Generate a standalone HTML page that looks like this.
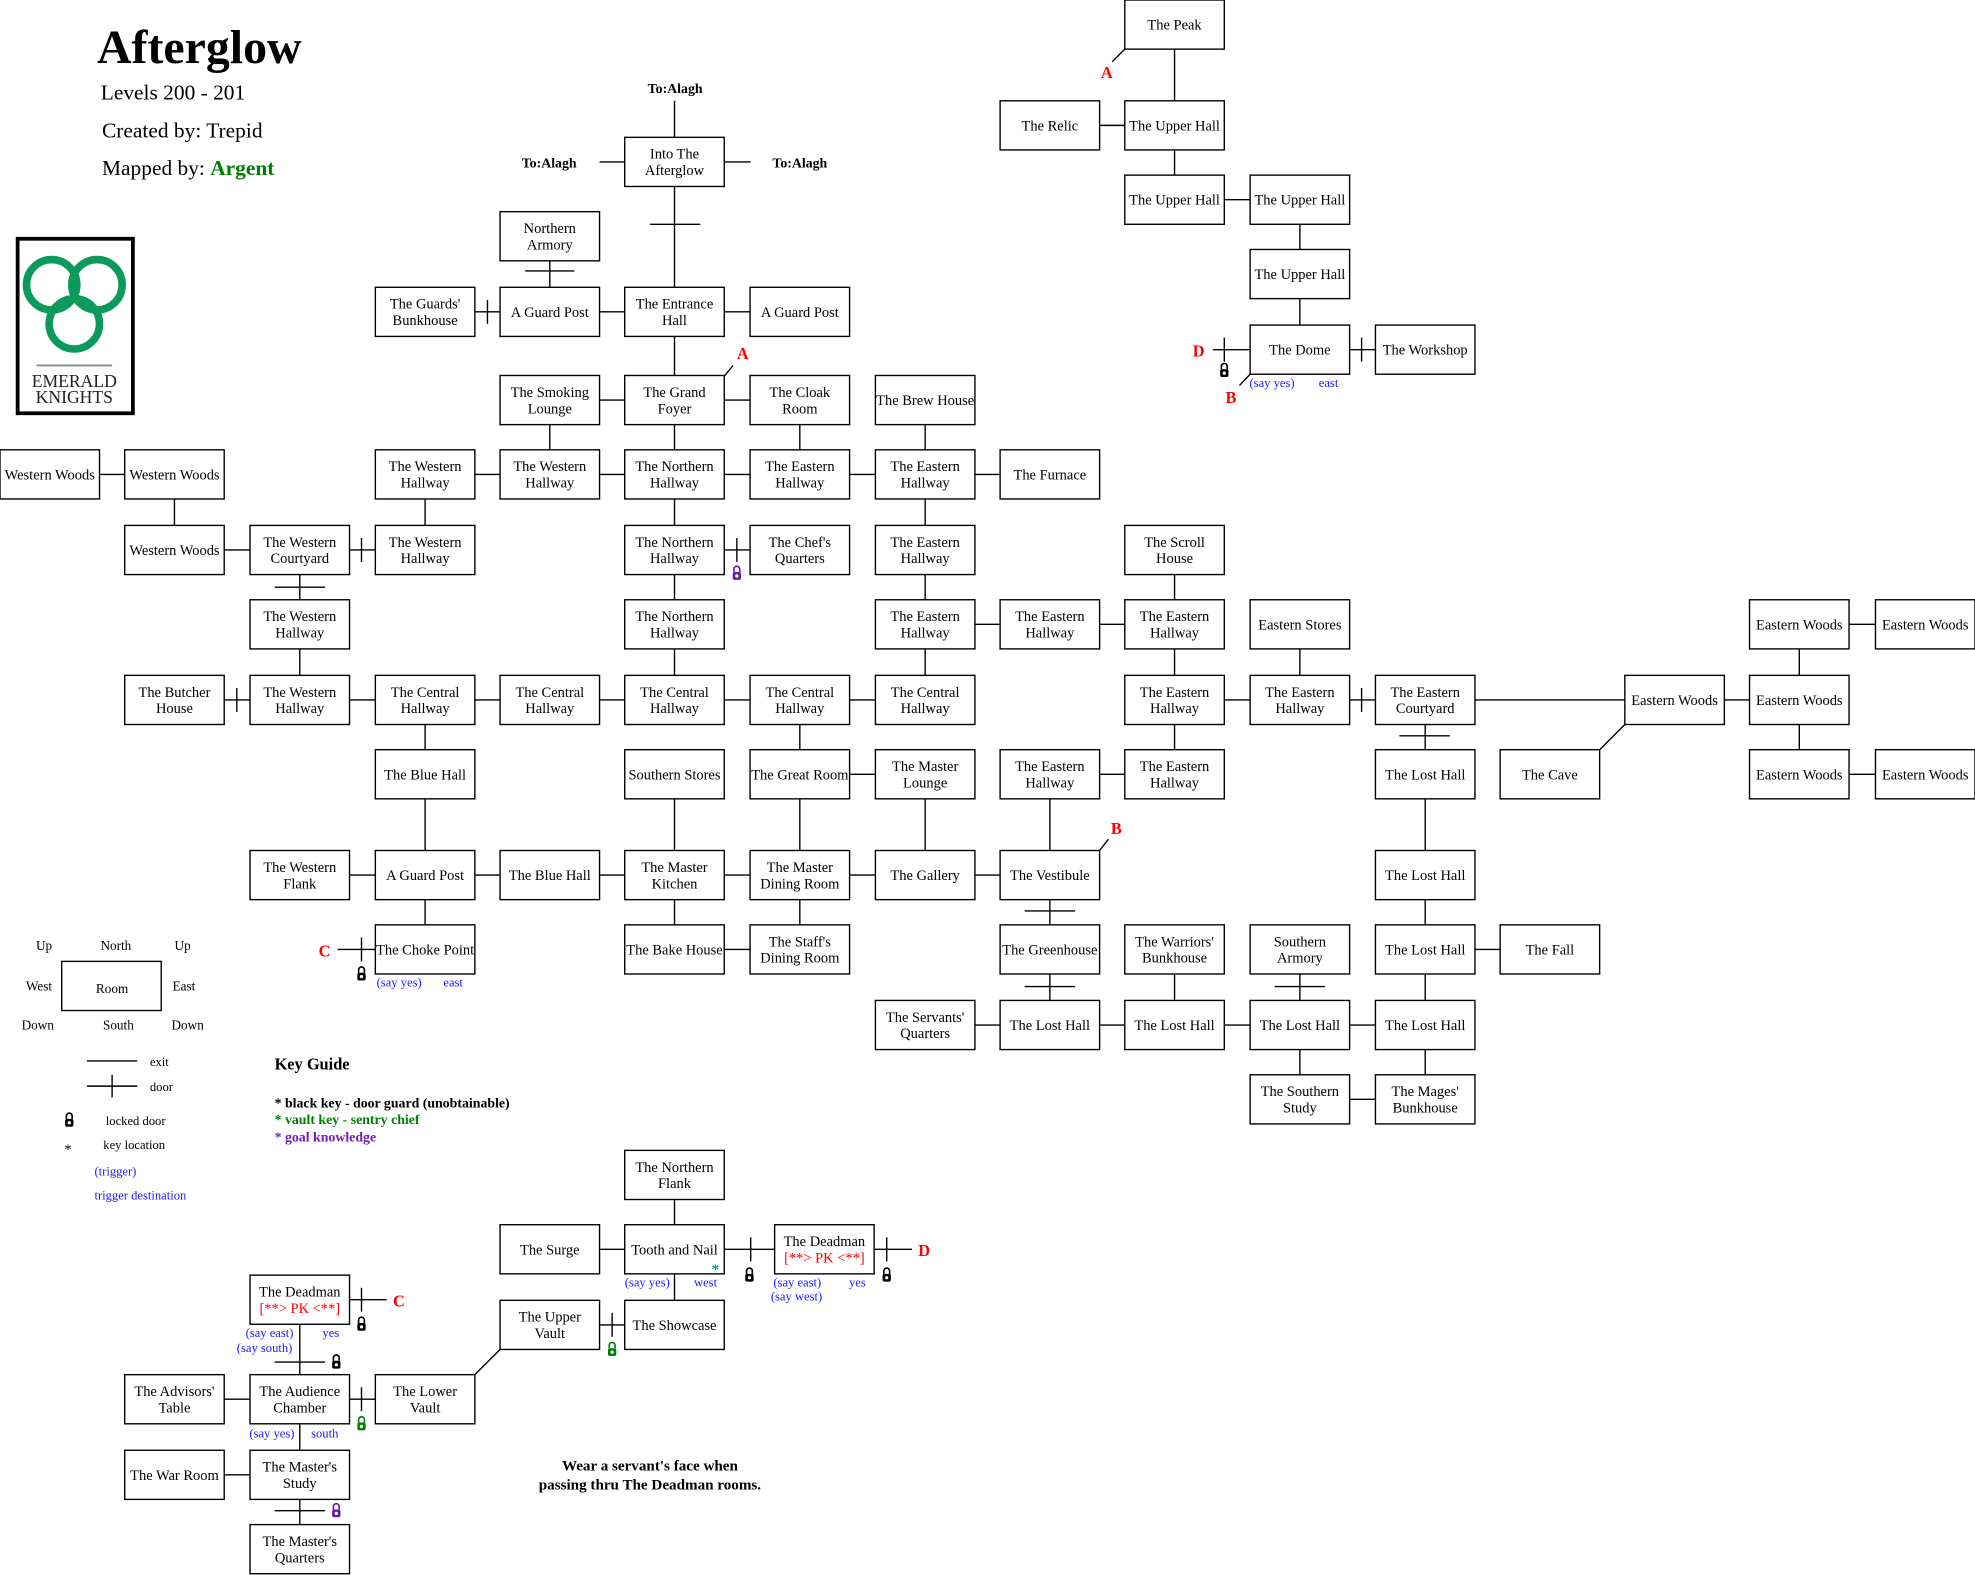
<!DOCTYPE html>
<html><head><meta charset="utf-8">
<style>
html,body{margin:0;padding:0;background:#fff;}
svg{display:block;}
text{font-family:"Liberation Serif",serif;}
.b rect{fill:#fff;stroke:#000;stroke-width:1.1;}
.b text{font-size:11.5px;text-anchor:middle;fill:#000;}
.b text.pk{fill:#f00;}
.l line{stroke:#000;stroke-width:1.1;}
.bl{fill:#1a1aff;font-size:10px;}
.red{fill:#f00;font-weight:bold;font-size:13px;}
</style></head><body>
<svg width="1975" height="1575" viewBox="0 0 1568 1250" preserveAspectRatio="none" xmlns="http://www.w3.org/2000/svg">
<defs>
<g id="lk"><path d="M-2.3,-1 v-2.3 a2.3,2.3 0 0 1 4.6,0 v2.3" fill="none" stroke="currentColor" stroke-width="1.3"/><rect x="-3.3" y="-1" width="6.6" height="6.2" rx="1.5" fill="currentColor"/><circle cx="0" cy="2.1" r="1.3" fill="#fff"/></g>
</defs>

<!-- header -->
<text x="77" y="50" font-size="38" font-weight="bold">Afterglow</text>
<text x="80" y="79" font-size="17">Levels 200 - 201</text>
<text x="81" y="109" font-size="17">Created by: Trepid</text>
<text x="81" y="139" font-size="17">Mapped by: <tspan fill="#008000" font-weight="bold">Argent</tspan></text>

<!-- logo -->
<rect x="14" y="189.5" width="91.5" height="138.5" fill="#fff" stroke="#000" stroke-width="3"/>
<g fill="none" stroke="#0a9a5c" stroke-width="6">
<circle cx="41" cy="226" r="20"/><circle cx="77" cy="226" r="20"/><circle cx="59" cy="257" r="20"/>
</g>
<line x1="29" y1="290" x2="89" y2="290" stroke="#888" stroke-width="1.5"/>
<text x="59" y="307" font-size="14" text-anchor="middle" fill="#222">EMERALD</text>
<text x="59" y="320" font-size="14" text-anchor="middle" fill="#222">KNIGHTS</text>

<!-- To:Alagh -->
<g font-size="11" font-weight="bold" text-anchor="middle">
<text x="536" y="74">To:Alagh</text>
<text x="436" y="133">To:Alagh</text>
<text x="635" y="133">To:Alagh</text>
</g>

<!-- connectors -->
<g class="l">
<line x1="873" y1="99.5" x2="893" y2="99.5"/>
<line x1="972" y1="158.5" x2="992.5" y2="158.5"/>
<line x1="1071.5" y1="277.5" x2="1092" y2="277.5"/><line x1="1081" y1="268" x2="1081" y2="287"/>
<line x1="963" y1="277.5" x2="992.5" y2="277.5"/><line x1="972" y1="268" x2="972" y2="287"/>
<line x1="476" y1="128.5" x2="496" y2="128.5"/><line x1="575" y1="128.5" x2="596" y2="128.5"/>
<line x1="377" y1="247.5" x2="397" y2="247.5"/><line x1="387" y1="238" x2="387" y2="257"/>
<line x1="476" y1="247.5" x2="496" y2="247.5"/><line x1="575" y1="247.5" x2="595.5" y2="247.5"/>
<line x1="476" y1="317.5" x2="496" y2="317.5"/><line x1="575" y1="317.5" x2="595.5" y2="317.5"/>
<line x1="79" y1="376.5" x2="99" y2="376.5"/><line x1="377" y1="376.5" x2="397" y2="376.5"/>
<line x1="476" y1="376.5" x2="496" y2="376.5"/><line x1="575" y1="376.5" x2="595.5" y2="376.5"/>
<line x1="674.5" y1="376.5" x2="695" y2="376.5"/><line x1="774" y1="376.5" x2="794" y2="376.5"/>
<line x1="178" y1="436.5" x2="198.5" y2="436.5"/>
<line x1="277.5" y1="436.5" x2="298" y2="436.5"/><line x1="287" y1="427" x2="287" y2="446"/>
<line x1="575" y1="436.5" x2="595.5" y2="436.5"/><line x1="585" y1="427" x2="585" y2="446"/>
<line x1="774" y1="495.5" x2="794" y2="495.5"/><line x1="873" y1="495.5" x2="893" y2="495.5"/>
<line x1="1468" y1="495.5" x2="1489" y2="495.5"/>
<line x1="178" y1="555.5" x2="198.5" y2="555.5"/><line x1="188" y1="546" x2="188" y2="565"/>
<line x1="277.5" y1="555.5" x2="298" y2="555.5"/><line x1="377" y1="555.5" x2="397" y2="555.5"/>
<line x1="476" y1="555.5" x2="496" y2="555.5"/><line x1="575" y1="555.5" x2="595.5" y2="555.5"/>
<line x1="674.5" y1="555.5" x2="695" y2="555.5"/><line x1="972" y1="555.5" x2="992.5" y2="555.5"/>
<line x1="1071.5" y1="555.5" x2="1092" y2="555.5"/><line x1="1081" y1="546" x2="1081" y2="565"/>
<line x1="1171" y1="555.5" x2="1290" y2="555.5"/><line x1="1369" y1="555.5" x2="1389" y2="555.5"/>
<line x1="674.5" y1="614.5" x2="695" y2="614.5"/><line x1="873" y1="614.5" x2="893" y2="614.5"/>
<line x1="1468" y1="614.5" x2="1489" y2="614.5"/>
<line x1="277.5" y1="694.5" x2="298" y2="694.5"/><line x1="377" y1="694.5" x2="397" y2="694.5"/>
<line x1="476" y1="694.5" x2="496" y2="694.5"/><line x1="575" y1="694.5" x2="595.5" y2="694.5"/>
<line x1="674.5" y1="694.5" x2="695" y2="694.5"/><line x1="774" y1="694.5" x2="794" y2="694.5"/>
<line x1="268" y1="753.5" x2="298" y2="753.5"/><line x1="287" y1="744" x2="287" y2="763"/>
<line x1="575" y1="753.5" x2="595.5" y2="753.5"/><line x1="1171" y1="753.5" x2="1191" y2="753.5"/>
<line x1="774" y1="813.5" x2="794" y2="813.5"/><line x1="873" y1="813.5" x2="893" y2="813.5"/>
<line x1="972" y1="813.5" x2="992.5" y2="813.5"/><line x1="1071.5" y1="813.5" x2="1092" y2="813.5"/>
<line x1="1071.5" y1="872.5" x2="1092" y2="872.5"/>
<line x1="476" y1="991.5" x2="496" y2="991.5"/>
<line x1="575" y1="991.5" x2="615" y2="991.5"/><line x1="596" y1="982" x2="596" y2="1001"/>
<line x1="674.5" y1="991.5" x2="724" y2="991.5"/><line x1="704" y1="982" x2="704" y2="1001"/>
<line x1="277.5" y1="1031.5" x2="307" y2="1031.5"/><line x1="287" y1="1022" x2="287" y2="1041"/>
<line x1="476" y1="1051.5" x2="496" y2="1051.5"/><line x1="486" y1="1042" x2="486" y2="1061"/>
<line x1="178" y1="1110.5" x2="198.5" y2="1110.5"/>
<line x1="277.5" y1="1110.5" x2="298" y2="1110.5"/><line x1="287" y1="1101" x2="287" y2="1120"/>
<line x1="178" y1="1170.5" x2="198.5" y2="1170.5"/>
<line x1="932.5" y1="39" x2="932.5" y2="80"/><line x1="932.5" y1="119" x2="932.5" y2="139"/>
<line x1="1032" y1="178" x2="1032" y2="198"/><line x1="1032" y1="237" x2="1032" y2="258"/>
<line x1="535.5" y1="80" x2="535.5" y2="109"/>
<line x1="535.5" y1="148" x2="535.5" y2="228"/><line x1="516" y1="178" x2="556" y2="178"/>
<line x1="535.5" y1="267" x2="535.5" y2="298"/><line x1="535.5" y1="337" x2="535.5" y2="357"/>
<line x1="535.5" y1="396" x2="535.5" y2="417"/><line x1="535.5" y1="456" x2="535.5" y2="476"/>
<line x1="535.5" y1="515" x2="535.5" y2="536"/>
<line x1="436.5" y1="207" x2="436.5" y2="228"/><line x1="417" y1="215" x2="456" y2="215"/>
<line x1="436.5" y1="337" x2="436.5" y2="357"/>
<line x1="635" y1="337" x2="635" y2="357"/><line x1="635" y1="575" x2="635" y2="595"/>
<line x1="635" y1="634" x2="635" y2="675"/><line x1="635" y1="714" x2="635" y2="734"/>
<line x1="734.5" y1="337" x2="734.5" y2="357"/><line x1="734.5" y1="396" x2="734.5" y2="417"/>
<line x1="734.5" y1="456" x2="734.5" y2="476"/><line x1="734.5" y1="515" x2="734.5" y2="536"/>
<line x1="734.5" y1="634" x2="734.5" y2="675"/>
<line x1="337.5" y1="396" x2="337.5" y2="417"/><line x1="337.5" y1="575" x2="337.5" y2="595"/>
<line x1="337.5" y1="634" x2="337.5" y2="675"/><line x1="337.5" y1="714" x2="337.5" y2="734"/>
<line x1="138.5" y1="396" x2="138.5" y2="417"/>
<line x1="238" y1="456" x2="238" y2="476"/><line x1="218" y1="466" x2="258" y2="466"/>
<line x1="238" y1="515" x2="238" y2="536"/>
<line x1="238" y1="1051" x2="238" y2="1091"/><line x1="218" y1="1081" x2="258" y2="1081"/>
<line x1="238" y1="1130" x2="238" y2="1151"/>
<line x1="238" y1="1190" x2="238" y2="1210"/><line x1="218" y1="1199" x2="258" y2="1199"/>
<line x1="932.5" y1="456" x2="932.5" y2="476"/><line x1="932.5" y1="515" x2="932.5" y2="536"/>
<line x1="932.5" y1="575" x2="932.5" y2="595"/><line x1="932.5" y1="773" x2="932.5" y2="794"/>
<line x1="1032" y1="515" x2="1032" y2="536"/>
<line x1="1032" y1="773" x2="1032" y2="794"/><line x1="1012" y1="783" x2="1052" y2="783"/>
<line x1="1032" y1="833" x2="1032" y2="853"/>
<line x1="1131.5" y1="575" x2="1131.5" y2="595"/><line x1="1111" y1="584" x2="1151" y2="584"/>
<line x1="1131.5" y1="634" x2="1131.5" y2="675"/><line x1="1131.5" y1="714" x2="1131.5" y2="734"/>
<line x1="1131.5" y1="773" x2="1131.5" y2="794"/><line x1="1131.5" y1="833" x2="1131.5" y2="853"/>
<line x1="1428.5" y1="515" x2="1428.5" y2="536"/><line x1="1428.5" y1="575" x2="1428.5" y2="595"/>
<line x1="833.5" y1="634" x2="833.5" y2="675"/>
<line x1="833.5" y1="714" x2="833.5" y2="734"/><line x1="813.5" y1="723" x2="853.5" y2="723"/>
<line x1="833.5" y1="773" x2="833.5" y2="794"/><line x1="813.5" y1="783" x2="853.5" y2="783"/>
<line x1="535.5" y1="634" x2="535.5" y2="675"/><line x1="535.5" y1="714" x2="535.5" y2="734"/>
<line x1="535.5" y1="952" x2="535.5" y2="972"/><line x1="535.5" y1="1011" x2="535.5" y2="1032"/>
<line x1="1290" y1="575" x2="1270" y2="595" stroke-width="0.8"/>
<line x1="397" y1="1071" x2="377" y2="1091" stroke-width="0.8"/>
<line x1="893" y1="39" x2="883" y2="49" stroke-width="0.8"/>
<line x1="575.5" y1="298" x2="582" y2="290" stroke-width="0.8"/>
<line x1="873" y1="675" x2="880" y2="666" stroke-width="0.8"/>
<line x1="992.5" y1="297" x2="984" y2="306" stroke-width="0.8"/>
</g>

<!-- rooms -->
<g class="b">
<rect x="893" y="0" width="79" height="39"/><text x="932.5" y="23.5">The Peak</text>
<rect x="794" y="80" width="79" height="39"/><text x="833.5" y="103.5">The Relic</text>
<rect x="893" y="80" width="79" height="39"/><text x="932.5" y="103.5">The Upper Hall</text>
<rect x="893" y="139" width="79" height="39"/><text x="932.5" y="162.5">The Upper Hall</text>
<rect x="992.5" y="139" width="79" height="39"/><text x="1032" y="162.5">The Upper Hall</text>
<rect x="992.5" y="198" width="79" height="39"/><text x="1032" y="221.5">The Upper Hall</text>
<rect x="992.5" y="258" width="79" height="39"/><text x="1032" y="281.5">The Dome</text>
<rect x="1092" y="258" width="79" height="39"/><text x="1131.5" y="281.5">The Workshop</text>
<rect x="496" y="109" width="79" height="39"/><text x="535.5" y="126">Into The</text><text x="535.5" y="139">Afterglow</text>
<rect x="397" y="168" width="79" height="39"/><text x="436.5" y="185">Northern</text><text x="436.5" y="198">Armory</text>
<rect x="298" y="228" width="79" height="39"/><text x="337.5" y="245">The Guards'</text><text x="337.5" y="258">Bunkhouse</text>
<rect x="397" y="228" width="79" height="39"/><text x="436.5" y="251.5">A Guard Post</text>
<rect x="496" y="228" width="79" height="39"/><text x="535.5" y="245">The Entrance</text><text x="535.5" y="258">Hall</text>
<rect x="595.5" y="228" width="79" height="39"/><text x="635" y="251.5">A Guard Post</text>
<rect x="397" y="298" width="79" height="39"/><text x="436.5" y="315">The Smoking</text><text x="436.5" y="328">Lounge</text>
<rect x="496" y="298" width="79" height="39"/><text x="535.5" y="315">The Grand</text><text x="535.5" y="328">Foyer</text>
<rect x="595.5" y="298" width="79" height="39"/><text x="635" y="315">The Cloak</text><text x="635" y="328">Room</text>
<rect x="695" y="298" width="79" height="39"/><text x="734.5" y="321.5">The Brew House</text>

<rect x="0" y="357" width="79" height="39"/><text x="39.5" y="380.5">Western Woods</text>
<rect x="99" y="357" width="79" height="39"/><text x="138.5" y="380.5">Western Woods</text>
<rect x="298" y="357" width="79" height="39"/><text x="337.5" y="374">The Western</text><text x="337.5" y="387">Hallway</text>
<rect x="397" y="357" width="79" height="39"/><text x="436.5" y="374">The Western</text><text x="436.5" y="387">Hallway</text>
<rect x="496" y="357" width="79" height="39"/><text x="535.5" y="374">The Northern</text><text x="535.5" y="387">Hallway</text>
<rect x="595.5" y="357" width="79" height="39"/><text x="635" y="374">The Eastern</text><text x="635" y="387">Hallway</text>
<rect x="695" y="357" width="79" height="39"/><text x="734.5" y="374">The Eastern</text><text x="734.5" y="387">Hallway</text>
<rect x="794" y="357" width="79" height="39"/><text x="833.5" y="380.5">The Furnace</text>

<rect x="99" y="417" width="79" height="39"/><text x="138.5" y="440.5">Western Woods</text>
<rect x="198.5" y="417" width="79" height="39"/><text x="238" y="434">The Western</text><text x="238" y="447">Courtyard</text>
<rect x="298" y="417" width="79" height="39"/><text x="337.5" y="434">The Western</text><text x="337.5" y="447">Hallway</text>
<rect x="496" y="417" width="79" height="39"/><text x="535.5" y="434">The Northern</text><text x="535.5" y="447">Hallway</text>
<rect x="595.5" y="417" width="79" height="39"/><text x="635" y="434">The Chef's</text><text x="635" y="447">Quarters</text>
<rect x="695" y="417" width="79" height="39"/><text x="734.5" y="434">The Eastern</text><text x="734.5" y="447">Hallway</text>
<rect x="893" y="417" width="79" height="39"/><text x="932.5" y="434">The Scroll</text><text x="932.5" y="447">House</text>

<rect x="198.5" y="476" width="79" height="39"/><text x="238" y="493">The Western</text><text x="238" y="506">Hallway</text>
<rect x="496" y="476" width="79" height="39"/><text x="535.5" y="493">The Northern</text><text x="535.5" y="506">Hallway</text>
<rect x="695" y="476" width="79" height="39"/><text x="734.5" y="493">The Eastern</text><text x="734.5" y="506">Hallway</text>
<rect x="794" y="476" width="79" height="39"/><text x="833.5" y="493">The Eastern</text><text x="833.5" y="506">Hallway</text>
<rect x="893" y="476" width="79" height="39"/><text x="932.5" y="493">The Eastern</text><text x="932.5" y="506">Hallway</text>
<rect x="992.5" y="476" width="79" height="39"/><text x="1032" y="499.5">Eastern Stores</text>
<rect x="1389" y="476" width="79" height="39"/><text x="1428.5" y="499.5">Eastern Woods</text>
<rect x="1489" y="476" width="79" height="39"/><text x="1528.5" y="499.5">Eastern Woods</text>

<rect x="99" y="536" width="79" height="39"/><text x="138.5" y="553">The Butcher</text><text x="138.5" y="566">House</text>
<rect x="198.5" y="536" width="79" height="39"/><text x="238" y="553">The Western</text><text x="238" y="566">Hallway</text>
<rect x="298" y="536" width="79" height="39"/><text x="337.5" y="553">The Central</text><text x="337.5" y="566">Hallway</text>
<rect x="397" y="536" width="79" height="39"/><text x="436.5" y="553">The Central</text><text x="436.5" y="566">Hallway</text>
<rect x="496" y="536" width="79" height="39"/><text x="535.5" y="553">The Central</text><text x="535.5" y="566">Hallway</text>
<rect x="595.5" y="536" width="79" height="39"/><text x="635" y="553">The Central</text><text x="635" y="566">Hallway</text>
<rect x="695" y="536" width="79" height="39"/><text x="734.5" y="553">The Central</text><text x="734.5" y="566">Hallway</text>
<rect x="893" y="536" width="79" height="39"/><text x="932.5" y="553">The Eastern</text><text x="932.5" y="566">Hallway</text>
<rect x="992.5" y="536" width="79" height="39"/><text x="1032" y="553">The Eastern</text><text x="1032" y="566">Hallway</text>
<rect x="1092" y="536" width="79" height="39"/><text x="1131.5" y="553">The Eastern</text><text x="1131.5" y="566">Courtyard</text>
<rect x="1290" y="536" width="79" height="39"/><text x="1329.5" y="559.5">Eastern Woods</text>
<rect x="1389" y="536" width="79" height="39"/><text x="1428.5" y="559.5">Eastern Woods</text>

<rect x="298" y="595" width="79" height="39"/><text x="337.5" y="618.5">The Blue Hall</text>
<rect x="496" y="595" width="79" height="39"/><text x="535.5" y="618.5">Southern Stores</text>
<rect x="595.5" y="595" width="79" height="39"/><text x="635" y="618.5">The Great Room</text>
<rect x="695" y="595" width="79" height="39"/><text x="734.5" y="612">The Master</text><text x="734.5" y="625">Lounge</text>
<rect x="794" y="595" width="79" height="39"/><text x="833.5" y="612">The Eastern</text><text x="833.5" y="625">Hallway</text>
<rect x="893" y="595" width="79" height="39"/><text x="932.5" y="612">The Eastern</text><text x="932.5" y="625">Hallway</text>
<rect x="1092" y="595" width="79" height="39"/><text x="1131.5" y="618.5">The Lost Hall</text>
<rect x="1191" y="595" width="79" height="39"/><text x="1230.5" y="618.5">The Cave</text>
<rect x="1389" y="595" width="79" height="39"/><text x="1428.5" y="618.5">Eastern Woods</text>
<rect x="1489" y="595" width="79" height="39"/><text x="1528.5" y="618.5">Eastern Woods</text>

<rect x="198.5" y="675" width="79" height="39"/><text x="238" y="692">The Western</text><text x="238" y="705">Flank</text>
<rect x="298" y="675" width="79" height="39"/><text x="337.5" y="698.5">A Guard Post</text>
<rect x="397" y="675" width="79" height="39"/><text x="436.5" y="698.5">The Blue Hall</text>
<rect x="496" y="675" width="79" height="39"/><text x="535.5" y="692">The Master</text><text x="535.5" y="705">Kitchen</text>
<rect x="595.5" y="675" width="79" height="39"/><text x="635" y="692">The Master</text><text x="635" y="705">Dining Room</text>
<rect x="695" y="675" width="79" height="39"/><text x="734.5" y="698.5">The Gallery</text>
<rect x="794" y="675" width="79" height="39"/><text x="833.5" y="698.5">The Vestibule</text>
<rect x="1092" y="675" width="79" height="39"/><text x="1131.5" y="698.5">The Lost Hall</text>

<rect x="298" y="734" width="79" height="39"/><text x="337.5" y="757.5">The Choke Point</text>
<rect x="496" y="734" width="79" height="39"/><text x="535.5" y="757.5">The Bake House</text>
<rect x="595.5" y="734" width="79" height="39"/><text x="635" y="751">The Staff's</text><text x="635" y="764">Dining Room</text>
<rect x="794" y="734" width="79" height="39"/><text x="833.5" y="757.5">The Greenhouse</text>
<rect x="893" y="734" width="79" height="39"/><text x="932.5" y="751">The Warriors'</text><text x="932.5" y="764">Bunkhouse</text>
<rect x="992.5" y="734" width="79" height="39"/><text x="1032" y="751">Southern</text><text x="1032" y="764">Armory</text>
<rect x="1092" y="734" width="79" height="39"/><text x="1131.5" y="757.5">The Lost Hall</text>
<rect x="1191" y="734" width="79" height="39"/><text x="1230.5" y="757.5">The Fall</text>

<rect x="695" y="794" width="79" height="39"/><text x="734.5" y="811">The Servants'</text><text x="734.5" y="824">Quarters</text>
<rect x="794" y="794" width="79" height="39"/><text x="833.5" y="817.5">The Lost Hall</text>
<rect x="893" y="794" width="79" height="39"/><text x="932.5" y="817.5">The Lost Hall</text>
<rect x="992.5" y="794" width="79" height="39"/><text x="1032" y="817.5">The Lost Hall</text>
<rect x="1092" y="794" width="79" height="39"/><text x="1131.5" y="817.5">The Lost Hall</text>
<rect x="992.5" y="853" width="79" height="39"/><text x="1032" y="870">The Southern</text><text x="1032" y="883">Study</text>
<rect x="1092" y="853" width="79" height="39"/><text x="1131.5" y="870">The Mages'</text><text x="1131.5" y="883">Bunkhouse</text>

<rect x="496" y="913" width="79" height="39"/><text x="535.5" y="930">The Northern</text><text x="535.5" y="943">Flank</text>
<rect x="397" y="972" width="79" height="39"/><text x="436.5" y="995.5">The Surge</text>
<rect x="496" y="972" width="79" height="39"/><text x="535.5" y="995.5">Tooth and Nail</text>
<rect x="615" y="972" width="79" height="39"/><text x="654.5" y="989">The Deadman</text><text class="pk" x="654.5" y="1002" style="fill:#f00">[**&gt; PK &lt;**]</text>
<rect x="198.5" y="1012" width="79" height="39"/><text x="238" y="1029">The Deadman</text><text class="pk" x="238" y="1042" style="fill:#f00">[**&gt; PK &lt;**]</text>
<rect x="397" y="1032" width="79" height="39"/><text x="436.5" y="1049">The Upper</text><text x="436.5" y="1062">Vault</text>
<rect x="496" y="1032" width="79" height="39"/><text x="535.5" y="1055.5">The Showcase</text>
<rect x="99" y="1091" width="79" height="39"/><text x="138.5" y="1108">The Advisors'</text><text x="138.5" y="1121">Table</text>
<rect x="198.5" y="1091" width="79" height="39"/><text x="238" y="1108">The Audience</text><text x="238" y="1121">Chamber</text>
<rect x="298" y="1091" width="79" height="39"/><text x="337.5" y="1108">The Lower</text><text x="337.5" y="1121">Vault</text>
<rect x="99" y="1151" width="79" height="39"/><text x="138.5" y="1174.5">The War Room</text>
<rect x="198.5" y="1151" width="79" height="39"/><text x="238" y="1168">The Master's</text><text x="238" y="1181">Study</text>
<rect x="198.5" y="1210" width="79" height="39"/><text x="238" y="1227">The Master's</text><text x="238" y="1240">Quarters</text>
</g>

<!-- markers -->
<text class="red" x="874" y="62">A</text>
<text class="red" x="585" y="285">A</text>
<text class="red" x="882" y="662">B</text>
<text class="red" x="973" y="320">B</text>
<text class="red" x="947" y="283">D</text>
<text class="red" x="729" y="997">D</text>
<text class="red" x="253" y="759">C</text>
<text class="red" x="312" y="1037">C</text>

<!-- locks -->
<use href="#lk" transform="translate(585,455)" color="#6a1aa0"/>
<use href="#lk" transform="translate(972,294)" color="#000"/>
<use href="#lk" transform="translate(287,773)" color="#000"/>
<use href="#lk" transform="translate(595,1012)" color="#000"/>
<use href="#lk" transform="translate(704,1012)" color="#000"/>
<use href="#lk" transform="translate(287,1051)" color="#000"/>
<use href="#lk" transform="translate(267,1081)" color="#000"/>
<use href="#lk" transform="translate(486,1071)" color="#008000"/>
<use href="#lk" transform="translate(287,1130)" color="#008000"/>
<use href="#lk" transform="translate(267,1199)" color="#6a1aa0"/>
<use href="#lk" transform="translate(55,889)" color="#000"/>

<!-- trigger labels -->
<text class="bl" x="992" y="307">(say yes)</text><text class="bl" x="1047" y="307">east</text>
<text class="bl" x="299" y="783">(say yes)</text><text class="bl" x="352" y="783">east</text>
<text class="bl" x="496" y="1021">(say yes)</text><text class="bl" x="551" y="1021">west</text>
<text x="565" y="1011" font-size="12" fill="#00a0a0" font-weight="bold">*</text>
<text class="bl" x="614" y="1021">(say east)</text><text class="bl" x="674" y="1021">yes</text>
<text class="bl" x="612" y="1032">(say west)</text>
<text class="bl" x="195" y="1061">(say east)</text><text class="bl" x="256" y="1061">yes</text>
<text class="bl" x="188" y="1073">(say south)</text>
<text class="bl" x="198" y="1141">(say yes)</text><text class="bl" x="247" y="1141">south</text>

<!-- legend -->
<g font-size="10.5" text-anchor="middle">
<text x="35" y="754">Up</text><text x="92" y="754">North</text><text x="145" y="754">Up</text>
<text x="31" y="786">West</text><text x="89" y="788">Room</text><text x="146" y="786">East</text>
<text x="30" y="817">Down</text><text x="94" y="817">South</text><text x="149" y="817">Down</text>
</g>
<rect x="49" y="763" width="79" height="39" fill="none" stroke="#000" stroke-width="1.1"/>
<g class="l">
<line x1="69" y1="842" x2="109" y2="842"/>
<line x1="69" y1="862" x2="109" y2="862"/><line x1="89" y1="853" x2="89" y2="871"/>
</g>
<g font-size="10">
<text x="119" y="846">exit</text>
<text x="119" y="866">door</text>
<text x="84" y="893">locked door</text>
<text x="51" y="916" font-size="12">*</text>
<text x="82" y="912">key location</text>
<text class="bl" x="75" y="933">(trigger)</text>
<text class="bl" x="75" y="952">trigger destination</text>
</g>
<text x="218" y="849" font-size="13" font-weight="bold">Key Guide</text>
<g font-size="11" font-weight="bold">
<text x="218" y="879">* black key - door guard (unobtainable)</text>
<text x="218" y="892" fill="#008000">* vault key - sentry chief</text>
<text x="218" y="906" fill="#7020b0">* goal knowledge</text>
</g>
<g font-size="12" font-weight="bold" text-anchor="middle">
<text x="516" y="1167">Wear a servant's face when</text>
<text x="516" y="1182">passing thru The Deadman rooms.</text>
</g>
</svg>
</body></html>
